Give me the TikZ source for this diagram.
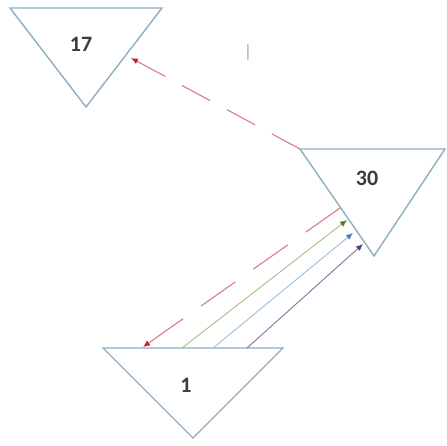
\documentclass[tikz,border=0pt]{standalone}
\usepackage{fontspec}
\setmainfont{Carlito}
\usetikzlibrary{arrows.meta}
\definecolor{triblue}{RGB}{140,175,195}
\definecolor{numgray}{RGB}{60,60,60}
\definecolor{redline}{RGB}{215,125,135}
\definecolor{redtip}{RGB}{200,30,45}
\definecolor{greenline}{RGB}{160,195,130}
\definecolor{greentip}{RGB}{80,125,60}
\definecolor{blueline}{RGB}{150,195,220}
\definecolor{bluetip}{RGB}{80,130,185}
\definecolor{purpleline}{RGB}{140,110,165}
\definecolor{purpletip}{RGB}{90,60,130}
\begin{document}
\begin{tikzpicture}[x=1pt,y=-1pt,
  tri/.style={draw=triblue,line width=1.4pt,line join=miter},
  num/.style={font=\fontsize{22}{26}\selectfont\bfseries,text=numgray,inner sep=0pt},
  reddash/.style={draw=redline,line width=1.1pt,-{Latex[length=7pt,width=6pt,color=redtip]}},
  solidarr/.style={line width=0.9pt,-{Latex[length=7pt,width=6pt,color=#1]}}
]
\useasboundingbox[fill=white] (0,0) rectangle (446,446);
% triangles
\draw[tri] (10,8) -- (162,8) -- (86,107) -- cycle;
\draw[tri] (300,149) -- (445,149) -- (374,256) -- cycle;
\draw[tri] (103,348) -- (283,348) -- (193,438) -- cycle;
% labels
\node[num] (n17) at (81,44) {17};
\node[num] (n30) at (367,178) {30};
\node[num] (n1) at (186,385) {1};
\node[font=\fontsize{18}{20}\selectfont,text=gray!70,inner sep=0pt] (bar) at (248,52) {|};
% connector end points
\coordinate (a30) at (300,149);
\coordinate (a17) at (131,58);
\coordinate (b30) at (340,208);
\coordinate (b1) at (143,347);
\coordinate (g1) at (182,348);
\coordinate (g30) at (347,220);
\coordinate (l1) at (213,348);
\coordinate (l30) at (353,233);
\coordinate (p1) at (247,348);
\coordinate (p30) at (363,244);
% connectors
\draw[reddash,dash pattern=on 32pt off 19pt] (a30) -- (a17);
\draw[reddash,dash pattern=on 42pt off 22pt] (b30) -- (b1);
\draw[solidarr=greentip,draw=greenline] (g1) -- (g30);
\draw[solidarr=bluetip,draw=blueline] (l1) -- (l30);
\draw[solidarr=purpletip,draw=purpleline] (p1) -- (p30);
\end{tikzpicture}
\end{document}
